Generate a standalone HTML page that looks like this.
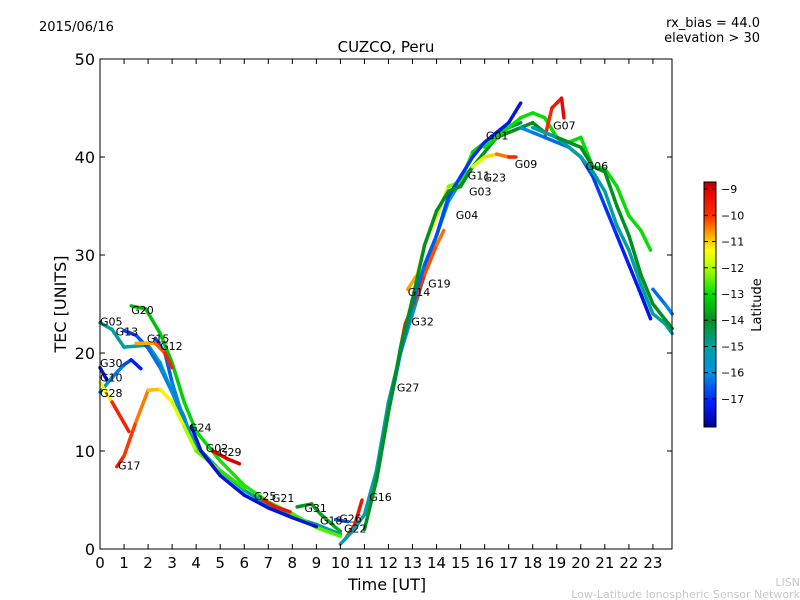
<!DOCTYPE html>
<html><head><meta charset="utf-8"><style>
body{margin:0;background:#fff;}
svg{display:block;font-family:"DejaVu Sans","Liberation Sans",sans-serif;}
</style></head><body>
<svg id="c" width="800" height="600" xmlns="http://www.w3.org/2000/svg">
<defs>
<linearGradient id="jet" x1="0" y1="1" x2="0" y2="0">
<stop offset="0" stop-color="#000090"/><stop offset="0.1" stop-color="#0020ff"/><stop offset="0.22" stop-color="#0090e0"/><stop offset="0.33" stop-color="#00a0a0"/><stop offset="0.436" stop-color="#009020"/><stop offset="0.54" stop-color="#00dd00"/><stop offset="0.65" stop-color="#b0ff00"/><stop offset="0.72" stop-color="#ffff00"/><stop offset="0.78" stop-color="#ffb000"/><stop offset="0.86" stop-color="#ff3000"/><stop offset="0.97" stop-color="#e00000"/><stop offset="1" stop-color="#b00000"/>
</linearGradient>
</defs>
<text x="39" y="31" font-size="13">2015/06/16</text>
<text x="760" y="27" font-size="13" text-anchor="end">rx_bias = 44.0</text>
<text x="760" y="42" font-size="13" text-anchor="end">elevation &gt; 30</text>
<text x="386" y="52" font-size="15" text-anchor="middle">CUZCO, Peru</text>
<g id="tracks"></g>
<g id="axes"></g>
<rect x="100" y="59" width="572" height="490" fill="none" stroke="#000"/>
<text x="387" y="590" font-size="16" text-anchor="middle">Time [UT]</text>
<text transform="translate(66,304) rotate(-90)" font-size="16" text-anchor="middle">TEC [UNITS]</text>
<rect x="704" y="182" width="12" height="245" fill="url(#jet)" stroke="#000"/>
<g id="cbticks"></g>
<text transform="translate(761,305) rotate(-90)" font-size="13" text-anchor="middle">Latitude</text>
<text x="800" y="586" font-size="11" fill="#c8c8c8" text-anchor="end">LISN</text>
<text x="800" y="598" font-size="11" fill="#c8c8c8" text-anchor="end">Low-Latitude Ionospheric Sensor Network</text>
<g id="labels"></g>
</svg>
<script>
const xTicks=[0,1,2,3,4,5,6,7,8,9,10,11,12,13,14,15,16,17,18,19,20,21,22,23];
const yTicks=[0,10,20,30,40,50];
const cbTicks=[-9,-10,-11,-12,-13,-14,-15,-16,-17];
const trackNames=["G05","G20","G13","G15","G12","G30","G10","G28","G17","G24","G02","G25","G31","G26","G16","G27","G14","G19","G01","G04","G09","G11","G07","G06","G21","G32","G18"];
const trackPoints=[
[[0,23.1],[0.5,22.4],[1,20.6],[2,20.8],[2.5,19],[3,16],[3.5,13],[4,10.5],[5,8],[6,6],[7,4.5],[8,3.3],[9,2.5],[10,1.5]],
[[1.3,24.8],[1.9,24.5],[2.5,22],[3,19],[3.5,15],[4,12],[5,9],[6,6.5],[7,4.8],[8,3.6],[9,2.2],[10,1.3]],
[[1,22.3],[1.5,21.8],[2,20.5],[2.5,18.5],[3,16],[3.5,13.5],[3.7,12]],
[[2.3,21.5],[2.7,20],[3,17],[3.5,13]],
[[1.5,21],[2.3,21],[2.7,20],[3,18.5]],
[[0,18.5],[0.3,17.2]],
[[0,16],[0.5,17.5],[1,18.8],[1.3,19.3],[1.7,18.4]],
[[0,17],[0.5,15],[1.2,12]],
[[0.7,8.4],[1,9.5],[1.5,13],[2,16.2],[2.5,16.3],[3,15],[3.5,12.5],[4,10],[5,8],[6,6.2]],
[[3.8,12.5],[4.2,10],[5,7.5],[6,5.5],[7,4.2],[8,3.2],[9,2.3]],
[[4.7,10],[5.3,9.2],[5.8,8.7]],
[[6.8,5],[7.3,4.3],[7.9,3.8]],
[[8.2,4.3],[8.8,4.6],[9.2,3.5],[9.8,2.2],[10,1.8]],
[[9.8,3],[10.3,2.8]],
[[10.2,1],[10.6,2.5],[10.9,5]],
[[10,0.5],[10.5,1.8],[11,3.5],[11.5,8],[12,15],[12.5,20],[13,24],[13.5,28],[14,32],[14.5,35.5],[15,37.5],[15.5,39]],
[[12.8,26.5],[13.2,28],[13.5,31],[14,34],[14.5,37],[15,37.5],[15.5,40.5],[16,41.5],[16.5,42.5],[17,43],[17.5,43.5]],
[[12.5,20.5],[12.7,23],[13.2,26],[13.5,28],[14,31],[14.3,32.5]],
[[11.5,7],[12,14],[12.5,20],[13,25],[13.5,29],[14,32],[14.5,36],[15,38],[15.5,40],[16,41.5],[16.5,42.5],[17,43.5],[17.5,45.5]],
[[11,2],[11.5,7],[12,14],[12.5,20.5],[13,25.5],[13.5,31],[14,34.5],[14.5,36.5],[15,37],[15.5,39],[16,40.5],[16.5,42],[17,42.5],[17.5,43],[18,43.5],[18.5,42.5],[19,42]],
[[15.5,39],[16,40],[16.5,40.3],[17,40],[17.3,40]],
[[16,41],[16.5,42],[17,43],[17.5,44],[18,44.5],[18.5,44],[19,42],[19.5,41.5],[20,42],[20.5,39],[21,38.8],[21.5,37],[22,34],[22.5,32.5],[22.9,30.5]],
[[18.5,42],[18.8,45],[19.2,46],[19.3,44]],
[[17.5,43],[18,42.5],[18.5,42],[19.5,41],[20,40],[20.5,38],[21,35],[21.5,32],[22,29],[22.5,26],[22.9,23.5]],
[[18,43],[19,42],[20,40],[20.5,38.5],[21,36.5],[21.5,33],[22,30.5],[22.5,27],[23,24],[23.5,23],[23.8,22]],
[[19,42],[20,41],[20.5,39],[21,38.5],[21.5,35],[22,32],[22.5,28],[23,25],[23.8,22.5]],
[[23,26.5],[23.5,25],[23.8,24]]
];
const trackLatStart=[-15,-13.5,-17,-17,-11,-17.5,-15.5,-12,-9.5,-17.5,-9,-9.5,-14,-16.5,-9.5,-15,-10.5,-9.5,-16,-14,-12,-13,-10,-16,-15,-14,-16.5];
const trackLatEnd=[-15,-12.5,-15.5,-16,-9.5,-17.5,-17.5,-9,-13,-17.5,-9,-9.5,-13.5,-16.5,-9.5,-15.5,-14.5,-10.5,-17.5,-14,-9.5,-13,-9,-17.5,-15,-14,-16];
const labelText=["G05","G13","G20","G15","G12","G30","G10","G28","G17","G24","G02","G29","G25","G21","G31","G18","G26","G22","G16","G27","G32","G14","G19","G04","G03","G11","G23","G01","G09","G07","G06"];
const labelT=[0,0.65,1.3,1.95,2.5,0,0,0,0.75,3.7,4.4,4.95,6.4,7.15,8.5,9.15,9.95,10.15,11.2,12.35,12.95,12.8,13.65,14.8,15.35,15.3,15.95,16.05,17.25,18.85,20.2];
const labelV=[23.2,22.2,24.4,21.5,20.7,19,17.5,15.9,8.5,12.4,10.3,9.9,5.4,5.2,4.2,2.9,3.1,2.1,5.3,16.5,23.2,26.2,27.1,34.1,36.5,38.1,37.9,42.2,39.3,43.2,39.1];
const X=t=>100+t*24.04, Y=v=>549-v*9.8;
const latMin=-18.07, latMax=-8.73;
const cbY=l=>427-(l-latMin)/(latMax-latMin)*245;
const cmapPos=[0,0.1,0.22,0.33,0.436,0.54,0.65,0.72,0.78,0.86,0.97,1];
const cmapCol=[[0,0,144],[0,32,255],[0,144,224],[0,160,160],[0,144,32],[0,221,0],[176,255,0],[255,255,0],[255,176,0],[255,48,0],[224,0,0],[176,0,0]];
function jet(l){let f=(l-latMin)/(latMax-latMin);f=Math.max(0,Math.min(1,f));
 let k=0;while(k<cmapPos.length-2&&f>cmapPos[k+1])k++;
 const a=(f-cmapPos[k])/(cmapPos[k+1]-cmapPos[k]);
 const c=[0,1,2].map(j=>Math.round(cmapCol[k][j]+(cmapCol[k+1][j]-cmapCol[k][j])*a));
 return `rgb(${c[0]},${c[1]},${c[2]})`;}
const NS="http://www.w3.org/2000/svg";
const tg=document.getElementById('tracks');
trackPoints.forEach((pts,i)=>{
 const g=document.createElementNS(NS,'g');
 
 
 for(let k=0;k<pts.length-1;k++){
  const fr=(k+0.5)/(pts.length-1);
  const lat=trackLatStart[i]+(trackLatEnd[i]-trackLatStart[i])*fr;
  const ln=document.createElementNS(NS,'line');
  ln.setAttribute('x1',X(pts[k][0]));ln.setAttribute('y1',Y(pts[k][1]));
  ln.setAttribute('x2',X(pts[k+1][0]));ln.setAttribute('y2',Y(pts[k+1][1]));
  ln.setAttribute('stroke',jet(lat));ln.setAttribute('stroke-width','3.5');ln.setAttribute('stroke-linecap','round');
  
  
  g.appendChild(ln);
 }
 tg.appendChild(g);
});
const ax=document.getElementById('axes');
xTicks.forEach(t=>{
 const x=X(t);
 ax.insertAdjacentHTML('beforeend',`<line x1="${x}" y1="549" x2="${x}" y2="544" stroke="#000"/><line x1="${x}" y1="59" x2="${x}" y2="64" stroke="#000"/>`);
 const tx=document.createElementNS(NS,'text');
 tx.setAttribute('x',x);tx.setAttribute('y',568);tx.setAttribute('font-size','15');tx.setAttribute('text-anchor','middle');
 tx.textContent=t;
 
 
 ax.appendChild(tx);
});
yTicks.forEach(v=>{
 const y=Y(v);
 ax.insertAdjacentHTML('beforeend',`<line x1="100" y1="${y}" x2="105" y2="${y}" stroke="#000"/><line x1="672" y1="${y}" x2="667" y2="${y}" stroke="#000"/>`);
 const tx=document.createElementNS(NS,'text');
 tx.setAttribute('x',95);tx.setAttribute('y',y+6);tx.setAttribute('font-size','16');tx.setAttribute('text-anchor','end');
 tx.textContent=v;
 
 
 ax.appendChild(tx);
});
const cb=document.getElementById('cbticks');
cbTicks.forEach(l=>{
 const y=cbY(l);
 cb.insertAdjacentHTML('beforeend',`<line x1="704" y1="${y}" x2="708" y2="${y}" stroke="#000"/><line x1="716" y1="${y}" x2="712" y2="${y}" stroke="#000"/>`);
 const tx=document.createElementNS(NS,'text');
 tx.setAttribute('x',721);tx.setAttribute('y',y+4);tx.setAttribute('font-size','11');
 tx.textContent='\u2212'+Math.abs(l);
 
 
 cb.appendChild(tx);
});
const lg=document.getElementById('labels');
labelText.forEach((s,i)=>{
 const tx=document.createElementNS(NS,'text');
 tx.setAttribute('x',X(labelT[i]));tx.setAttribute('y',Y(labelV[i])+4);tx.setAttribute('font-size','11');
 tx.textContent=s;
 
 
 lg.appendChild(tx);
});
</script>
</body></html>
